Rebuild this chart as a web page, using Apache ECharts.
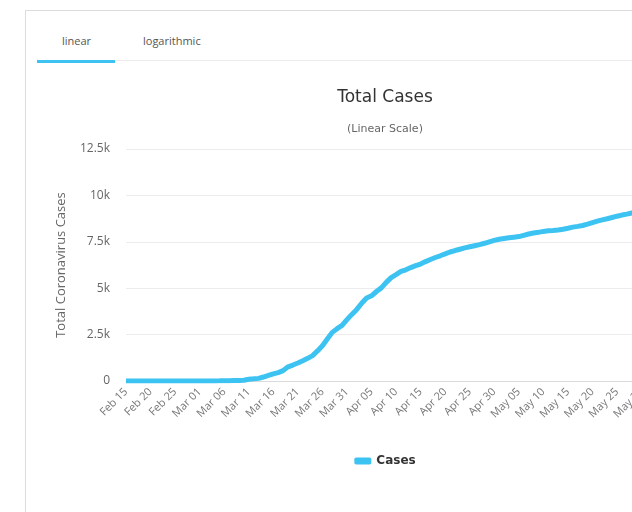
<!DOCTYPE html>
<html>
<head>
<meta charset="utf-8">
<script src="https://cdn.jsdelivr.net/npm/echarts@6/dist/echarts.min.js"></script>
<style>
html,body{margin:0;padding:0;width:632px;height:512px;overflow:hidden;background:#fff;}
#box{position:absolute;left:25px;top:10px;width:900px;height:700px;border:1px solid #dcdcdc;box-sizing:border-box;}
#chart{position:absolute;left:0;top:0;width:770px;height:512px;}
.tab{position:absolute;top:33px;font-family:"Open Sans",sans-serif;font-size:11px;color:#555;}
#sep{position:absolute;left:115px;top:60px;width:700px;height:1px;background:#ececec;}
#under{position:absolute;left:37px;top:60px;width:78px;height:3px;background:#3cc3f2;}
</style>
</head>
<body>
<div id="box"></div>
<div class="tab" style="left:62px">linear</div>
<div class="tab" style="left:143px">logarithmic</div>
<div id="sep"></div>
<div id="under"></div>
<div id="chart"></div>
<script>
const dates = [
 "Feb 15","Feb 16","Feb 17","Feb 18","Feb 19","Feb 20","Feb 21","Feb 22","Feb 23","Feb 24","Feb 25","Feb 26","Feb 27","Feb 28","Feb 29",
 "Mar 01","Mar 02","Mar 03","Mar 04","Mar 05","Mar 06","Mar 07","Mar 08","Mar 09","Mar 10","Mar 11","Mar 12","Mar 13","Mar 14","Mar 15","Mar 16","Mar 17","Mar 18","Mar 19","Mar 20","Mar 21","Mar 22","Mar 23","Mar 24","Mar 25","Mar 26","Mar 27","Mar 28","Mar 29","Mar 30","Mar 31",
 "Apr 01","Apr 02","Apr 03","Apr 04","Apr 05","Apr 06","Apr 07","Apr 08","Apr 09","Apr 10","Apr 11","Apr 12","Apr 13","Apr 14","Apr 15","Apr 16","Apr 17","Apr 18","Apr 19","Apr 20","Apr 21","Apr 22","Apr 23","Apr 24","Apr 25","Apr 26","Apr 27","Apr 28","Apr 29","Apr 30",
 "May 01","May 02","May 03","May 04","May 05","May 06","May 07","May 08","May 09","May 10","May 11","May 12","May 13","May 14","May 15","May 16","May 17","May 18","May 19","May 20","May 21","May 22","May 23","May 24","May 25","May 26","May 27","May 28","May 29","May 30"
];
const febCases = [0,0,0,0,0,0,0,0,0,0,0,0,0,0,0];
const marCases = [3,3,5,5,8,12,19,26,32,40,94,116,141,214,298,383,450,560,765,860,970,1090,1220,1370,1620,1900,2260,2620,2820,3000,3308];
const aprCases = [3589,3858,4190,4472,4591,4822,5017,5312,5569,5732,5902,5991,6111,6216,6303,6433,6549,6654,6746,6850,6950,7030,7100,7170,7230,7290,7350,7420,7500,7580];
const mayCases = [7640,7680,7720,7750,7780,7850,7920,7970,8010,8060,8090,8110,8140,8180,8230,8290,8330,8380,8450,8530,8610,8680,8740,8810,8880,8940,8990,9050,9100,9150];
const yTicks = [0,2500,5000,7500,10000,12500];
const yTickLabels = ["0","2.5k","5k","7.5k","10k","12.5k"];

const cases = febCases.concat(marCases, aprCases, mayCases);
const lineColor = '#3cc3f2';
const chart = echarts.init(document.getElementById('chart'), null, {renderer:'canvas'});
chart.setOption({
  animation:false,
  backgroundColor:'transparent',
  title:{
    text:'Total Cases',
    subtext:'(Linear Scale)',
    left:'center',
    top:84,
    itemGap:18,
    textStyle:{fontFamily:'DejaVu Sans',fontSize:17,fontWeight:'normal',color:'#333'},
    subtextStyle:{fontFamily:'DejaVu Sans',fontSize:11,color:'#666'}
  },
  legend:{
    data:['Cases'],
    left:'center',
    top:450,
    icon:'roundRect',
    itemWidth:17,
    itemHeight:7,
    textStyle:{fontFamily:'DejaVu Sans',fontSize:12,fontWeight:'bold',color:'#333'}
  },
  grid:{left:126,top:149,height:232,width:(dates.length-1)*4.91,containLabel:false},
  xAxis:{
    type:'category',
    data:dates,
    boundaryGap:false,
    axisLine:{show:true,lineStyle:{color:'#dadada',width:1}},
    axisTick:{show:false},
    axisLabel:{interval:4,rotate:45,fontFamily:'Open Sans',fontSize:11,color:'#777',margin:9},
    splitLine:{show:false}
  },
  yAxis:{
    type:'value',
    min:0,max:12500,interval:2500,
    name:'Total Coronavirus Cases',
    nameLocation:'middle',
    nameGap:58,
    nameRotate:90,
    nameTextStyle:{fontFamily:'Open Sans',fontSize:13,color:'#666'},
    axisLine:{show:false},
    axisTick:{show:false},
    axisLabel:{margin:16,fontFamily:'Open Sans',fontSize:12,color:'#666',
      formatter:function(v){const i=yTicks.indexOf(v);return i>=0?yTickLabels[i]:'';}},
    splitLine:{lineStyle:{color:'#ececec',width:1}}
  },
  series:[{
    name:'Cases',
    type:'line',
    data:cases,
    showSymbol:false,
    smooth:false,
    lineStyle:{color:lineColor,width:5},
    itemStyle:{color:lineColor}
  }]
});
</script>
</body>
</html>
